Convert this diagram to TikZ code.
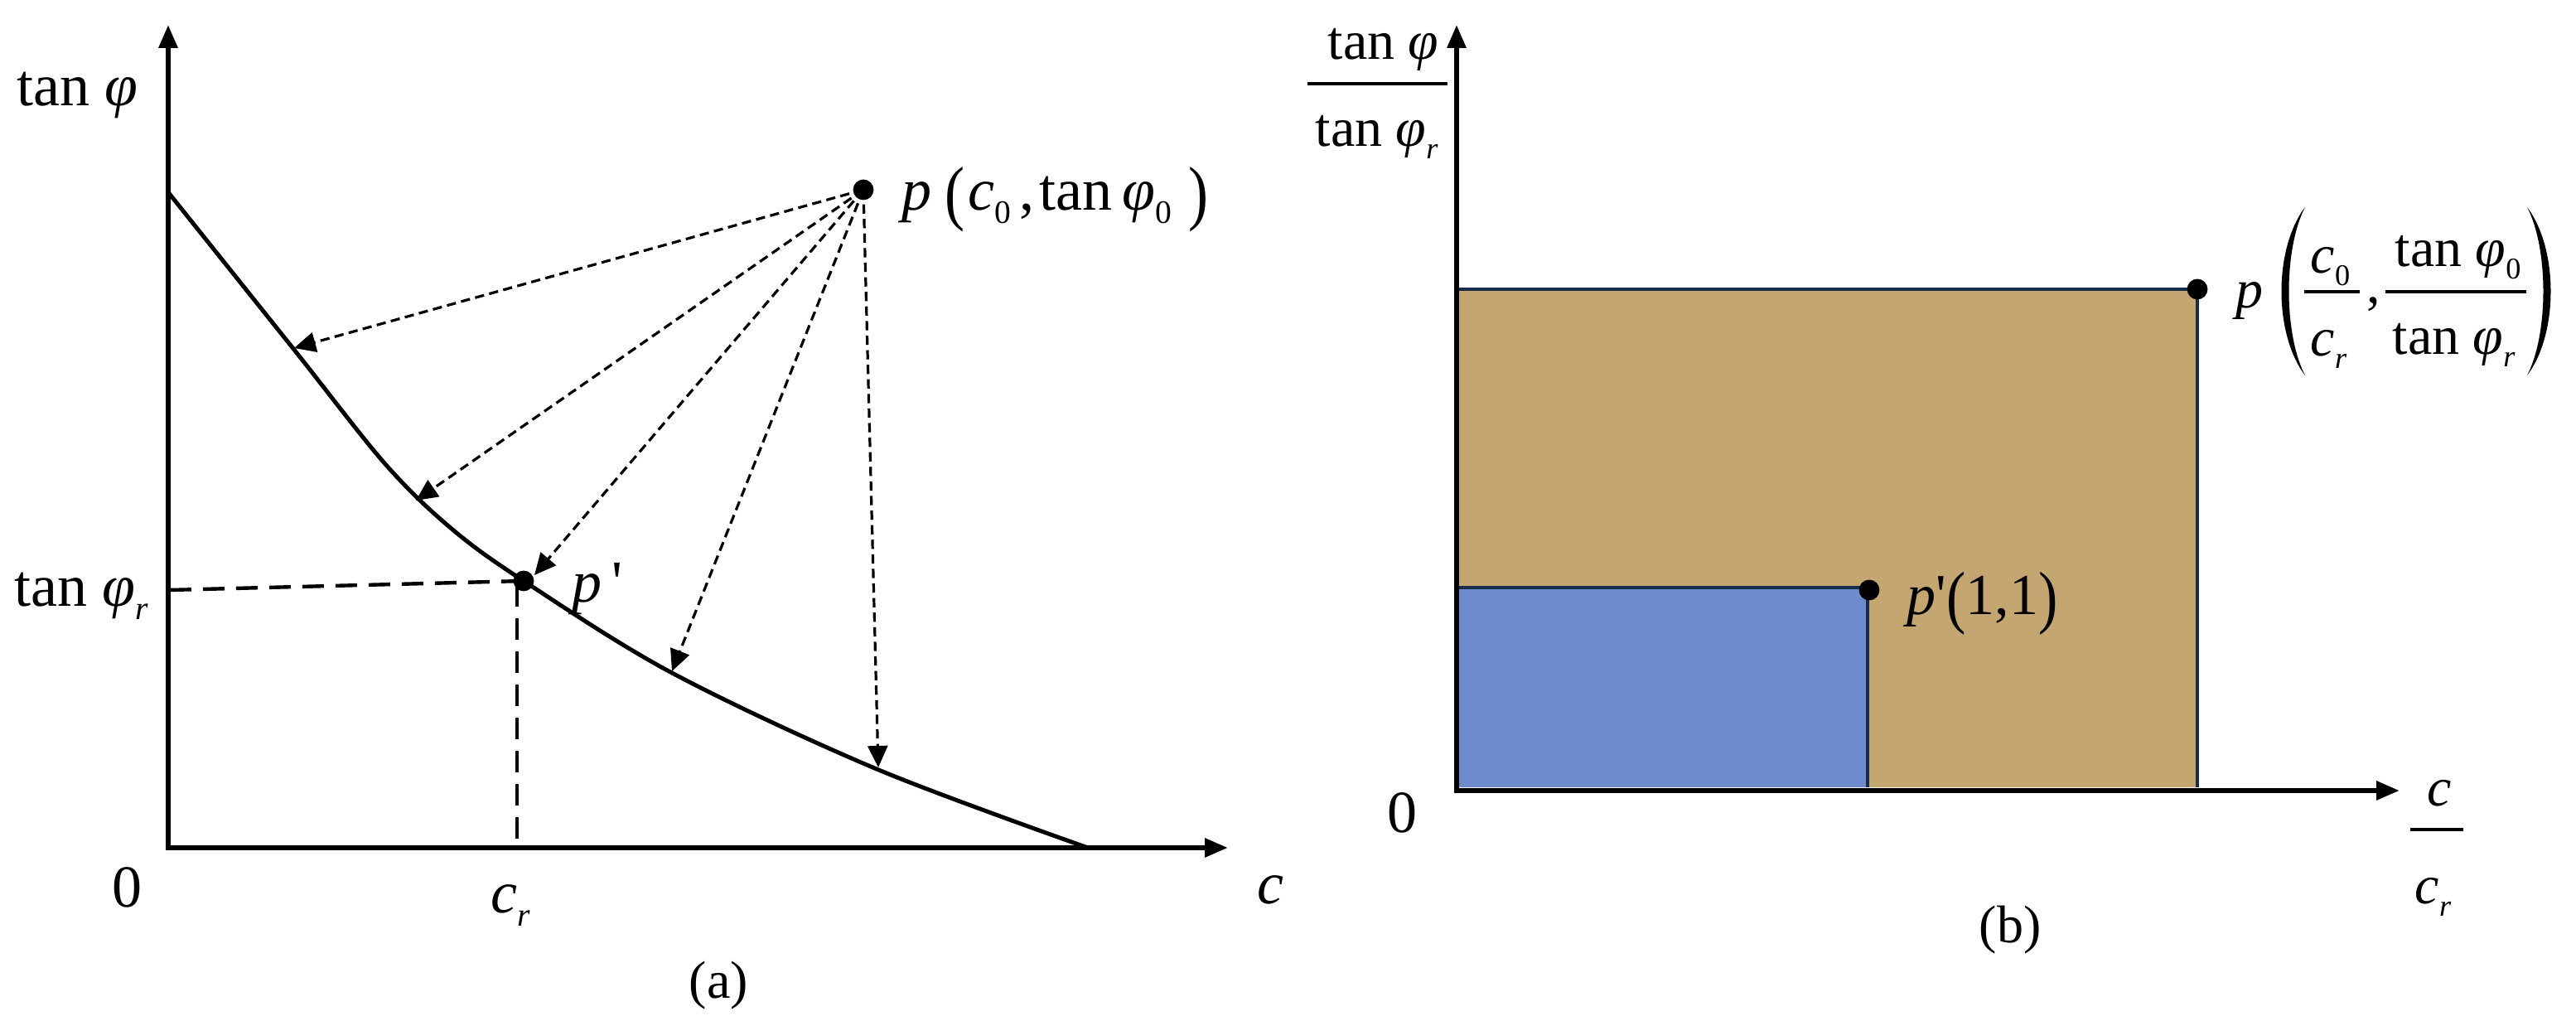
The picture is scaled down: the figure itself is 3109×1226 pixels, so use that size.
\documentclass[tikz,border=0pt]{standalone}
\usepackage{fontspec}
\usepackage{graphicx}
\setmainfont{Liberation Serif}
\usetikzlibrary{arrows.meta}
\newcommand\lo[1]{\raisebox{-0.22em}{\scalebox{0.55}{#1}}}
\newcommand\szA{\fontsize{18}{20}\selectfont}
\newcommand\szB{\fontsize{16.5}{18}\selectfont}
\newcommand\szC{\fontsize{16}{18}\selectfont}
\newcommand\tallparen[1]{\raisebox{-0.1em}{\scalebox{1}[1.2]{#1}}}
\definecolor{tanfill}{RGB}{196,166,112}
\definecolor{bluefill}{RGB}{108,140,205}
\definecolor{navy}{RGB}{23,43,77}
\begin{document}
\begin{tikzpicture}[x=0.25pt,y=-0.25pt,
  lbl/.style={inner sep=0pt, anchor=base west, font=\szA},
  lblb/.style={inner sep=0pt, anchor=base west, font=\szB},
  axis/.style={line width=1.5pt, {Triangle[length=7pt,width=5.5pt]}-{Triangle[length=7pt,width=5.5pt]}},
  curve/.style={line width=1.25pt},
  guide/.style={line width=1.1pt, dash pattern=on 6.5pt off 3.5pt},
  proj/.style={line width=0.8pt, dash pattern=on 2.8pt off 1.6pt, -{Triangle[length=6.5pt,width=6pt]}},
  dot/.style={circle, fill=black, inner sep=0pt, minimum size=6.2pt},
  fracbar/.style={line width=0.9pt},
  region/.style={draw=navy, line width=1pt},
  ]
\useasboundingbox (0,0) rectangle (3109,1226);

% ---------------- panel (a) ----------------
\coordinate (Oa) at (203,1023);
\coordinate (Ya) at (203,30);
\coordinate (Xa) at (1482,1023);
\draw[axis] (Ya) -- (Oa) -- (Xa);

\draw[curve] plot[smooth, tension=0.55] coordinates
  {(203,232) (355,422) (465,560) (545,638) (632,701) (811,812) (1058,928) (1313,1023)};

\node[dot] (p) at (1042,229) {};
\node[dot] (pp) at (632,701) {};

\coordinate (t1) at (355,420);
\coordinate (t2) at (502,604);
\coordinate (t3) at (645,694);
\coordinate (t4) at (811,810);
\coordinate (t5) at (1060,926);
\foreach \t in {t1,t2,t3,t4,t5}{\draw[proj] (p.center) -- (\t);}

\coordinate (ga) at (205,712);
\coordinate (gc) at (624,706);
\coordinate (gb) at (624,1021);
\draw[guide] (ga) -- (pp.center);
\draw[guide] (gc) -- (gb);

\node[lbl] (ytitle) at (20,128) {tan \textit{φ}};
\node[lbl] (ytr) at (17,732) {tan \textit{φ}\lo{\textit{r}}};
\node[lbl] (zeroa) at (135,1095) {0};
\node[lbl] (cr) at (592,1102) {\textit{c}\lo{\textit{r}}};
\node[lbl] (xtitle) at (1517,1091) {\textit{c}};
\node[lbl] (pplab) at (690,727) {\textit{p}\,\textquotesingle};
\node[lbl] (plab) at (1088,254) {\textit{p}\hspace{4pt}\tallparen{(}\hspace{1pt}\textit{c}\lo{0}\hspace{2.5pt},\hspace{1.5pt}tan\hspace{3pt}\textit{φ}\lo{0}\hspace{5pt}\tallparen{)}};
\node[lbl, font=\szC] (capa) at (831,1205) {(a)};

% ---------------- panel (b) ----------------
\coordinate (Ob) at (1758,954);
\coordinate (Yb) at (1758,30);
\coordinate (Xb) at (2896,954);
\fill[tanfill] (1758,349) rectangle (2652,950);
\fill[bluefill] (1758,709) rectangle (2254,950);
\draw[region] (1758,349) -- (2652,349) -- (2652,950);
\draw[region] (1758,709) -- (2254,709) -- (2254,950);
\draw[axis] (Yb) -- (Ob) -- (Xb);

\node[dot] (q) at (2652,349) {};
\node[dot] (qq) at (2256,712) {};

% y label
\node[lblb] (ynum) at (1602,72) {tan \textit{φ}};
\node[lblb] (yden) at (1587,177) {tan \textit{φ}\lo{\textit{r}}};
\draw[fracbar] (1578,101) -- (1747,101);
% x label
\node[lblb] (xnum) at (2929,973) {\textit{c}};
\node[lblb] (xden) at (2914,1091) {\textit{c}\lo{\textit{r}}};
\draw[fracbar] (2909,1001) -- (2973,1001);
\node[lbl] (zerob) at (1674,1005) {0};
\node[lbl, font=\szC] (capb) at (2388,1138) {(b)};
\node[lblb, font=\fontsize{17.5}{19}\selectfont] (qqlab) at (2301,742) {\textit{p}\textquotesingle\tallparen{(}1,1\tallparen{)}};

% p label with fractions
\node[lblb] (qp) at (2698,372) {\textit{p}};
\fill (2782,250) .. controls (2744,300) and (2744,403) .. (2782,453)
      .. controls (2756,403) and (2756,300) .. (2782,250);
\fill (3050,250) .. controls (3088,300) and (3088,403) .. (3050,453)
      .. controls (3076,403) and (3076,300) .. (3050,250);
\node[lblb] (qn1) at (2788,330) {\textit{c}\lo{0}};
\node[lblb] (qd1) at (2788,430) {\textit{c}\lo{\textit{r}}};
\draw[fracbar] (2781,352) -- (2848,352);
\node[lblb] (qcomma) at (2856,366) {,};
\node[lblb] (qn2) at (2890,322) {tan \textit{φ}\lo{0}};
\node[lblb] (qd2) at (2887,428) {tan \textit{φ}\lo{\textit{r}}};
\draw[fracbar] (2879,352) -- (3049,352);
\end{tikzpicture}
\end{document}
